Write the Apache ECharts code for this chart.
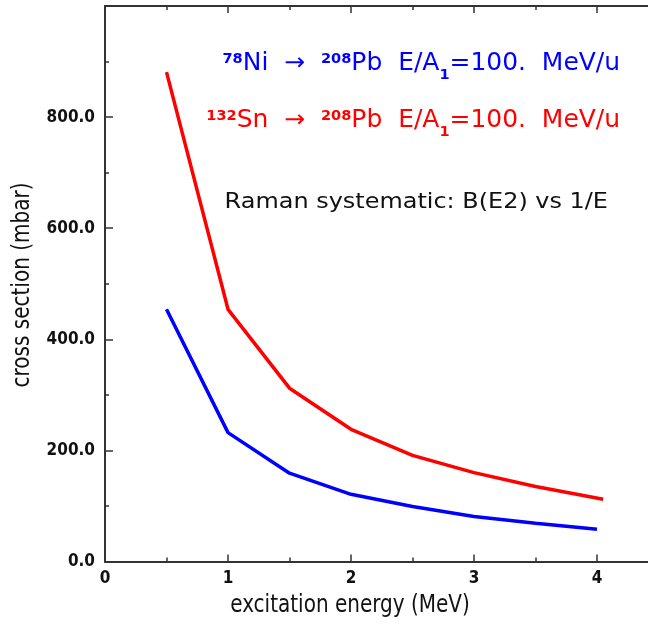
<!DOCTYPE html>
<html><head><meta charset="utf-8">
<script src="https://cdn.jsdelivr.net/npm/echarts@6/dist/echarts.min.js"></script>
<style>html,body{margin:0;padding:0;background:#fff}#c{width:648px;height:627px}</style>
</head><body><div id="c"></div>
<script>
// Data
const energyNi = [0.5, 1.0, 1.5, 2.0, 2.5, 3.0, 3.5, 4.0];
const sigmaNi  = [454, 232, 159, 121, 99, 81, 69, 58];
const energySn = [0.5, 1.0, 1.5, 2.0, 2.5, 3.0, 3.5, 4.05];
const sigmaSn  = [881, 454, 312, 238, 191, 160, 135, 112];
const xTitle = 'excitation energy (MeV)';
const yTitle = 'cross section (mbar)';
const noteText = 'Raman systematic: B(E2) vs 1/E';

const chart = echarts.init(document.getElementById('c'), null, {renderer: 'canvas'});
const axisCol = '#333';
const tickFont = {fontFamily: 'DejaVu Sans Condensed, DejaVu Sans', fontSize: 17, color: '#111'};
function pairs(xs, ys){ return xs.map((x,i)=>[x, ys[i]]); }
const mainFont = 'DejaVu Sans';
function richLine(color){
  return {
    m: {font: '24px ' + mainFont, fill: color, lineHeight: 28, verticalAlign: 'top'},
    s: {font: 'bold 14px ' + mainFont, fill: color, lineHeight: 14, verticalAlign: 'top'},
    b: {font: 'bold 14px ' + mainFont, fill: color, lineHeight: 20, verticalAlign: 'bottom'},
    f: {font: '24px ' + mainFont, lineHeight: 30, verticalAlign: 'top'}
  };
}
chart.setOption({
  animation: false,
  grid: {left: 105, top: 6, width: 553.5, height: 555.5, outerBoundsMode: 'none', containLabel: false},
  xAxis: [{
    type: 'value', min: 0, max: 4.5, interval: 1, position: 'bottom',
    axisLine: {show: true, lineStyle: {color: axisCol, width: 2}},
    axisTick: {show: true, inside: true, length: 7, lineStyle: {color: axisCol, width: 1.5}},
    minorTick: {show: true, splitNumber: 2, length: 4, lineStyle: {color: axisCol, width: 1.5}},
    splitLine: {show: false},
    axisLabel: Object.assign({margin: 9, formatter: v => (Math.abs(v - Math.round(v)) < 1e-9 && v < 4.2 ? String(Math.round(v)) : '')}, tickFont, {fontWeight: 'bold'})
  }, {
    type: 'value', min: 0, max: 4.5, interval: 1, position: 'top',
    axisLine: {show: true, onZero: false, lineStyle: {color: axisCol, width: 2}},
    axisTick: {show: true, inside: true, length: 7, lineStyle: {color: axisCol, width: 1.5}},
    minorTick: {show: true, splitNumber: 2, length: 4, lineStyle: {color: axisCol, width: 1.5}},
    splitLine: {show: false}, axisLabel: {show: false}
  }],
  yAxis: {
    type: 'value', min: 0, max: 1000, interval: 200,
    axisLine: {show: true, lineStyle: {color: axisCol, width: 2}},
    axisTick: {show: true, inside: true, length: 8, lineStyle: {color: axisCol, width: 1.5}},
    minorTick: {show: true, splitNumber: 2, length: 4, lineStyle: {color: axisCol, width: 1.5}},
    splitLine: {show: false},
    axisLabel: Object.assign({margin: 10, showMaxLabel: false, formatter: v => v.toFixed(1)}, tickFont, {fontWeight: 'bold'})
  },
  series: [
    {type: 'line', xAxisIndex: 0, data: pairs(energyNi, sigmaNi), symbol: 'none', lineStyle: {color: '#0000ff', width: 3.5}},
    {type: 'line', xAxisIndex: 0, data: pairs(energySn, sigmaSn), symbol: 'none', lineStyle: {color: '#ff0000', width: 3.5}}
  ],
  graphic: [
    {type: 'text', x: 350, y: 606, style: {text: xTitle, font: '20px ' + mainFont, fill: '#111', align: 'center', verticalAlign: 'middle'}, scaleY: 1.2},
    {type: 'text', x: 23, y: 285, rotation: Math.PI / 2, style: {text: yTitle, font: '20px ' + mainFont, fill: '#111', align: 'center', verticalAlign: 'middle'}, scaleY: 1.2},
    {type: 'text', x: 608, y: 203, scaleX: 1.14, style: {text: noteText, font: '21px ' + mainFont, fill: '#111', align: 'right', verticalAlign: 'middle'}},
    {type: 'text', x: 628, y: 67, scaleX: 1.04, style: {
      text: '{s|78}{m|Ni  →  }{s|208}{m|Pb  E/A}{b|1}{m|=100.  MeV/u}{f| }',
      fill: '#0000ff', align: 'right', verticalAlign: 'middle', rich: richLine('#0000ff')}},
    {type: 'text', x: 628, y: 124, scaleX: 1.04, style: {
      text: '{s|132}{m|Sn  →  }{s|208}{m|Pb  E/A}{b|1}{m|=100.  MeV/u}{f| }',
      fill: '#ff0000', align: 'right', verticalAlign: 'middle', rich: richLine('#ff0000')}}
  ]
});
</script></body></html>
